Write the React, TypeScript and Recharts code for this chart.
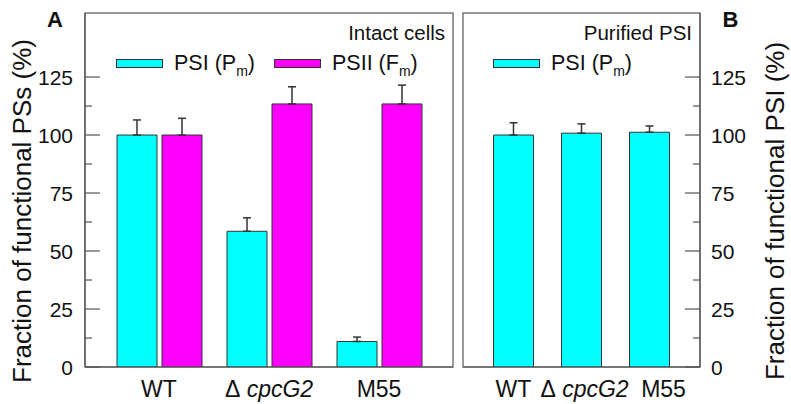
import React from 'react';
import * as Recharts from 'recharts';
import { BarChart, Bar, XAxis, YAxis, ErrorBar, Legend } from 'recharts';

// data (% of WT)
const categories = ['WT', 'ΔcpcG2', 'M55'];
const psiIntact = [100, 58.5, 11];
const psiIntactErr = [6.5, 5.8, 1.9];
const psiiIntact = [100, 113.4, 113.4];
const psiiIntactErr = [7.2, 7.4, 8.1];
const psiPurified = [100, 100.8, 101.2];
const psiPurifiedErr = [5.3, 4, 2.7];
const yTicks = [0, 12.5, 25, 37.5, 50, 62.5, 75, 87.5, 100, 112.5, 125];
const yMax = 152.6;

const legendLabels: Record<string, [string, string, string]> = {
  psi: ['PSI (P', 'm', ')'],
  psii: ['PSII (F', 'm', ')'],
};

const intactData = categories.map((name, i) => ({
  name,
  psi: psiIntact[i],
  psiErr: [0, psiIntactErr[i]],
  psii: psiiIntact[i],
  psiiErr: [0, psiiIntactErr[i]],
}));

const purifiedData = categories.map((name, i) => ({
  name,
  psi: psiPurified[i],
  psiErr: [0, psiPurifiedErr[i]],
}));

const FONT = '"Liberation Sans", Arial, sans-serif';
const CYAN = '#00FFFF';
const MAGENTA = '#FF00FF';
const EDGE = '#333';
const FRAME = '#555';
const INK = '#111';

const usePlotAreaHook: any = (Recharts as any).usePlotArea;
const useOffsetHook: any = (Recharts as any).useOffset;
const useChartWidthHook: any = (Recharts as any).useChartWidth;
const useChartHeightHook: any = (Recharts as any).useChartHeight;

// box round the plot area
function PlotFrame() {
  let area: any = null;
  if (usePlotAreaHook) {
    area = usePlotAreaHook();
  } else if (useOffsetHook && useChartWidthHook && useChartHeightHook) {
    const o = useOffsetHook();
    const w = useChartWidthHook();
    const h = useChartHeightHook();
    if (o && w && h) area = { x: o.left, y: o.top, width: w - o.left - o.right, height: h - o.top - o.bottom };
  }
  if (!area) return null;
  return (
    <rect
      x={area.x}
      y={area.y}
      width={area.width}
      height={area.height}
      fill="none"
      stroke={FRAME}
      strokeWidth={1.2}
    />
  );
}

function YTick({ x, y, payload, side }: any) {
  const major = payload.value % 25 === 0;
  const len = major ? 15 : 7;
  const left = side === 'left';
  const ax = left ? x + 12 : x - 11;
  const dir = left ? 1 : -1;
  return (
    <g>
      <line x1={ax} x2={ax + dir * len} y1={y} y2={y} stroke={FRAME} strokeWidth={1.2} />
      {major && (
        <text x={x} y={y} dy="0.36em" textAnchor={left ? 'end' : 'start'} fontSize={21} fill={INK} fontFamily={FONT}>
          {payload.value}
        </text>
      )}
    </g>
  );
}

function XTick({ x, y, payload, shift }: any) {
  const v: string = payload.value;
  const dx = (shift && shift[v]) || 0;
  return (
    <text x={x + dx} y={y} dy={30} textAnchor="middle" fontSize={23} fill={INK} fontFamily={FONT}>
      {v.startsWith('Δ') ? (
        <>
          <tspan>{'Δ\u00a0'}</tspan>
          <tspan fontStyle="italic">{v.slice(1)}</tspan>
        </>
      ) : (
        v
      )}
    </text>
  );
}

function LegendBox({ payload }: any) {
  return (
    <div style={{ display: 'flex', alignItems: 'center', fontFamily: FONT, fontSize: 21.5, color: INK, whiteSpace: 'nowrap' }}>
      {(payload || []).map((e: any, i: number) => {
        const [pre, sub, post] = legendLabels[e.dataKey] || [e.value, '', ''];
        return (
          <div key={i} style={{ display: 'flex', alignItems: 'center', marginRight: 19 }}>
            <span
              style={{
                display: 'inline-block',
                width: 47,
                height: 9,
                background: e.color,
                border: `1px solid ${EDGE}`,
                boxSizing: 'border-box',
                marginRight: 11,
              }}
            />
            <span style={{ color: INK }}>
              {pre}
              <span style={{ fontSize: 14, position: 'relative', top: 6, color: INK }}>{sub}</span>
              {post}
            </span>
          </div>
        );
      })}
    </div>
  );
}

function PanelA() {
  return (
    <BarChart
      width={460}
      height={404}
      data={intactData}
      margin={{ top: 13, right: 7, left: 20, bottom: 7 }}
      barGap={5}
    >
      <XAxis
        dataKey="name"
        padding={{ left: 19, right: 19 }}
        tickLine={false}
        tickSize={0}
        tickMargin={0}
        height={30}
        interval={0}
        axisLine={{ stroke: FRAME, strokeWidth: 1.2 }}
        tick={(p: any) => <XTick {...p} />}
      />
      <YAxis
        domain={[0, yMax]}
        ticks={yTicks}
        interval={0}
        allowDataOverflow
        width={65}
        tickLine={false}
        tickSize={0}
        tickMargin={12}
        axisLine={{ stroke: FRAME, strokeWidth: 1.2 }}
        tick={(p: any) => <YTick {...p} side="left" />}
      />
      <PlotFrame />
      <Legend
        layout="horizontal"
        verticalAlign="middle"
        align="center"
        wrapperStyle={{ top: 51, left: 116, width: 'auto' }}
        content={(p: any) => <LegendBox {...p} />}
      />
      <Bar dataKey="psi" name="PSI (Pm)" fill={CYAN} stroke={EDGE} strokeWidth={1} barSize={40} isAnimationActive={false}>
        <ErrorBar dataKey="psiErr" direction="y" width={4} stroke={EDGE} strokeWidth={1.5} />
      </Bar>
      <Bar dataKey="psii" name="PSII (Fm)" fill={MAGENTA} stroke={EDGE} strokeWidth={1} barSize={40} isAnimationActive={false}>
        <ErrorBar dataKey="psiiErr" direction="y" width={4} stroke={EDGE} strokeWidth={1.5} />
      </Bar>
      <text x={55} y={27} textAnchor="middle" fontSize={22} fontWeight="bold" fill={INK} fontFamily={FONT}>
        A
      </text>
      <text x={445} y={39.5} textAnchor="end" fontSize={20.5} fill={INK} fontFamily={FONT}>
        Intact cells
      </text>
      <text
        x={22}
        y={211}
        transform="rotate(-90 22 211)"
        textAnchor="middle"
        dominantBaseline="central"
        fontSize={26}
        fill={INK}
        fontFamily={FONT}
      >
        Fraction of functional PSs (%)
      </text>
    </BarChart>
  );
}

function PanelB() {
  return (
    <BarChart
      width={331}
      height={404}
      data={purifiedData}
      margin={{ top: 13, right: 21, left: 3, bottom: 7 }}
      barGap={5}
    >
      <XAxis
        dataKey="name"
        padding={{ left: 16.5, right: 16.5 }}
        tickLine={false}
        tickSize={0}
        tickMargin={0}
        height={30}
        interval={0}
        axisLine={{ stroke: FRAME, strokeWidth: 1.2 }}
        tick={(p: any) => <XTick {...p} shift={{ M55: 14, 'ΔcpcG2': 3 }} />}
      />
      <YAxis
        orientation="right"
        domain={[0, yMax]}
        ticks={yTicks}
        interval={0}
        allowDataOverflow
        width={70}
        tickLine={false}
        tickSize={0}
        tickMargin={11}
        axisLine={{ stroke: FRAME, strokeWidth: 1.2 }}
        tick={(p: any) => <YTick {...p} side="right" />}
      />
      <PlotFrame />
      <Legend
        layout="horizontal"
        verticalAlign="middle"
        align="center"
        wrapperStyle={{ top: 51, left: 33, width: 'auto' }}
        content={(p: any) => <LegendBox {...p} />}
      />
      <Bar dataKey="psi" name="PSI (Pm)" fill={CYAN} stroke={EDGE} strokeWidth={1} barSize={40} isAnimationActive={false}>
        <ErrorBar dataKey="psiErr" direction="y" width={4} stroke={EDGE} strokeWidth={1.5} />
      </Bar>
      <text x={232} y={39.5} textAnchor="end" fontSize={20.5} fill={INK} fontFamily={FONT}>
        Purified PSI
      </text>
      <text x={270.5} y={27} textAnchor="middle" fontSize={22} fontWeight="bold" fill={INK} fontFamily={FONT}>
        B
      </text>
      <text
        x={315}
        y={211}
        transform="rotate(-90 315 211)"
        textAnchor="middle"
        dominantBaseline="central"
        fontSize={26}
        fill={INK}
        fontFamily={FONT}
      >
        Fraction of functional PSI (%)
      </text>
    </BarChart>
  );
}

export default function App() {
  return (
    <div style={{ position: 'absolute', left: 0, top: 0, width: 791, height: 404, background: '#fff', fontFamily: FONT }}>
      <div style={{ position: 'absolute', left: 0, top: 0 }}>
        <PanelA />
      </div>
      <div style={{ position: 'absolute', left: 460, top: 0 }}>
        <PanelB />
      </div>
    </div>
  );
}
